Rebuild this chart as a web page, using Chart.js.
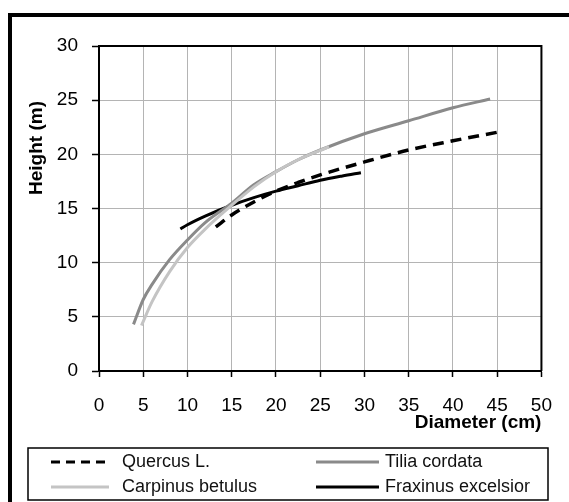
<!DOCTYPE html>
<html><head><meta charset="utf-8">
<script src="https://cdn.jsdelivr.net/npm/chart.js@4/dist/chart.umd.min.js"></script>
<style>
html,body{margin:0;padding:0;background:#fff;overflow:hidden;width:569px;height:502px;}
#frame{position:absolute;left:8px;top:13px;width:700px;height:700px;border-left:4px solid #000;border-top:4px solid #000;box-sizing:border-box;}
#c{position:absolute;left:0;top:0;}
</style></head><body>
<div id="frame"></div>
<canvas id="c" width="569" height="502"></canvas>
<script>
// ---- data ----
const seriesNames = ['Quercus L.', 'Tilia cordata', 'Carpinus betulus', 'Fraxinus excelsior'];

const quercusX = [13.2, 15, 17.5, 20, 22.5, 25, 30, 35, 40, 45.4];
const quercusY = [13.3, 14.4, 15.6, 16.6, 17.4, 18.1, 19.3, 20.4, 21.25, 22.1];

const tiliaX = [3.9, 5, 6, 8, 10, 12, 15, 17.5, 20, 22.5, 25, 30, 35, 40, 44.2];
const tiliaY = [4.3, 6.6, 8.0, 10.3, 12.1, 13.7, 15.5, 17.2, 18.4, 19.5, 20.4, 21.9, 23.1, 24.3, 25.1];

const carpinusX = [4.8, 6, 8, 10, 12, 15, 17.5, 20, 22.5, 26];
const carpinusY = [4.2, 6.4, 9.2, 11.4, 13.1, 15.3, 17.0, 18.4, 19.5, 20.7];

const fraxinusX = [9.2, 10, 12, 15, 17.5, 20, 22.5, 25, 27.5, 29.6];
const fraxinusY = [13.1, 13.5, 14.3, 15.3, 16.0, 16.6, 17.1, 17.6, 18.0, 18.3];

const xTicks = [0, 5, 10, 15, 20, 25, 30, 35, 40, 45, 50];
const yTicks = [0, 5, 10, 15, 20, 25, 30];
const xTitle = 'Diameter (cm)';
const yTitle = 'Height (m)';

// ---- build chart ----
const pts = (xs, ys) => xs.map((x, i) => ({x: x, y: ys[i]}));
const FONT = '"Liberation Sans", Arial, sans-serif';

function lineDs(label, xs, ys, color, width, dash) {
  return {
    label: label, data: pts(xs, ys), showLine: true, borderColor: color,
    backgroundColor: color, borderWidth: width, borderDash: dash || [],
    pointRadius: 0, pointHoverRadius: 0, fill: false,
    cubicInterpolationMode: 'monotone', borderCapStyle: 'butt'
  };
}

const datasets = [
  lineDs(seriesNames[2], carpinusX, carpinusY, '#c4c4c4', 3),
  lineDs(seriesNames[1], tiliaX, tiliaY, '#8a8a8a', 3),
  lineDs(seriesNames[0], quercusX, quercusY, '#000000', 3.5, [11, 7]),
  lineDs(seriesNames[3], fraxinusX, fraxinusY, '#000000', 3)
];

const decorPlugin = {
  id: 'decor',
  afterDraw(chart) {
    const ctx = chart.ctx;
    const a = chart.chartArea;
    ctx.save();
    // top and right border of plot area
    ctx.strokeStyle = '#000';
    ctx.lineWidth = 2;
    ctx.beginPath();
    ctx.moveTo(a.left, a.top);
    ctx.lineTo(a.right, a.top);
    ctx.lineTo(a.right, a.bottom);
    ctx.stroke();

    // y axis title
    ctx.fillStyle = '#000';
    ctx.font = 'bold 19px ' + FONT;
    ctx.textAlign = 'center';
    ctx.textBaseline = 'middle';
    ctx.translate(37, 148);
    ctx.rotate(-Math.PI / 2);
    ctx.fillText(yTitle, 0, 0);
    ctx.restore();

    // legend box
    ctx.save();
    ctx.strokeStyle = '#000';
    ctx.lineWidth = 1.5;
    ctx.strokeRect(28, 448, 520, 52);
    const items = [
      {name: seriesNames[0], ds: datasets[2], x: 51, y: 462},
      {name: seriesNames[1], ds: datasets[1], x: 316, y: 462},
      {name: seriesNames[2], ds: datasets[0], x: 51, y: 487},
      {name: seriesNames[3], ds: datasets[3], x: 316, y: 487}
    ];
    ctx.font = '18px ' + FONT;
    ctx.textAlign = 'left';
    ctx.textBaseline = 'middle';
    items.forEach(it => {
      const len = it.x < 100 ? 58 : 63;
      ctx.strokeStyle = it.ds.borderColor;
      ctx.lineWidth = 3;
      ctx.setLineDash(it.ds.borderDash.length ? [9, 6] : []);
      ctx.beginPath();
      ctx.moveTo(it.x, it.y);
      ctx.lineTo(it.x + len, it.y);
      ctx.stroke();
      ctx.setLineDash([]);
      ctx.fillStyle = '#111';
      ctx.fillText(it.name, it.x < 100 ? 122 : 385, it.y);
    });
    ctx.restore();
  }
};

new Chart(document.getElementById('c'), {
  type: 'scatter',
  data: {datasets: datasets},
  options: {
    responsive: false,
    animation: false,
    devicePixelRatio: 1,
    layout: {padding: {left: 0, top: 46, right: 26, bottom: 68}},
    plugins: {legend: {display: false}, tooltip: {enabled: false}},
    scales: {
      x: {
        type: 'linear',
        min: xTicks[0], max: xTicks[xTicks.length - 1],
        afterBuildTicks: s => { s.ticks = xTicks.map(v => ({value: v})); },
        ticks: {color: '#000', font: {family: FONT, size: 19}, padding: 17, maxRotation: 0, autoSkip: false},
        grid: {color: '#b4b4b4', lineWidth: 1, borderDash: [2, 2], tickLength: 6,
               tickColor: '#000', tickWidth: 1.5, tickBorderDash: []},
        border: {color: '#000', width: 2},
        title: {display: true, text: xTitle, align: 'end', color: '#000',
                font: {family: FONT, size: 19, weight: 'bold'}, padding: {top: 0, bottom: 0}},
        afterFit: s => { s.height = 63; }
      },
      y: {
        type: 'linear',
        min: yTicks[0], max: yTicks[yTicks.length - 1],
        afterBuildTicks: s => { s.ticks = yTicks.map(v => ({value: v})); },
        ticks: {color: '#000', font: {family: FONT, size: 19}, padding: 14, autoSkip: false},
        grid: {color: '#b4b4b4', lineWidth: 1, borderDash: [2, 2], tickLength: 7,
               tickColor: '#000', tickWidth: 1.5, tickBorderDash: []},
        border: {color: '#000', width: 2},
        afterFit: s => { s.width = 99; }
      }
    }
  },
  plugins: [decorPlugin]
});
</script>
</body></html>
